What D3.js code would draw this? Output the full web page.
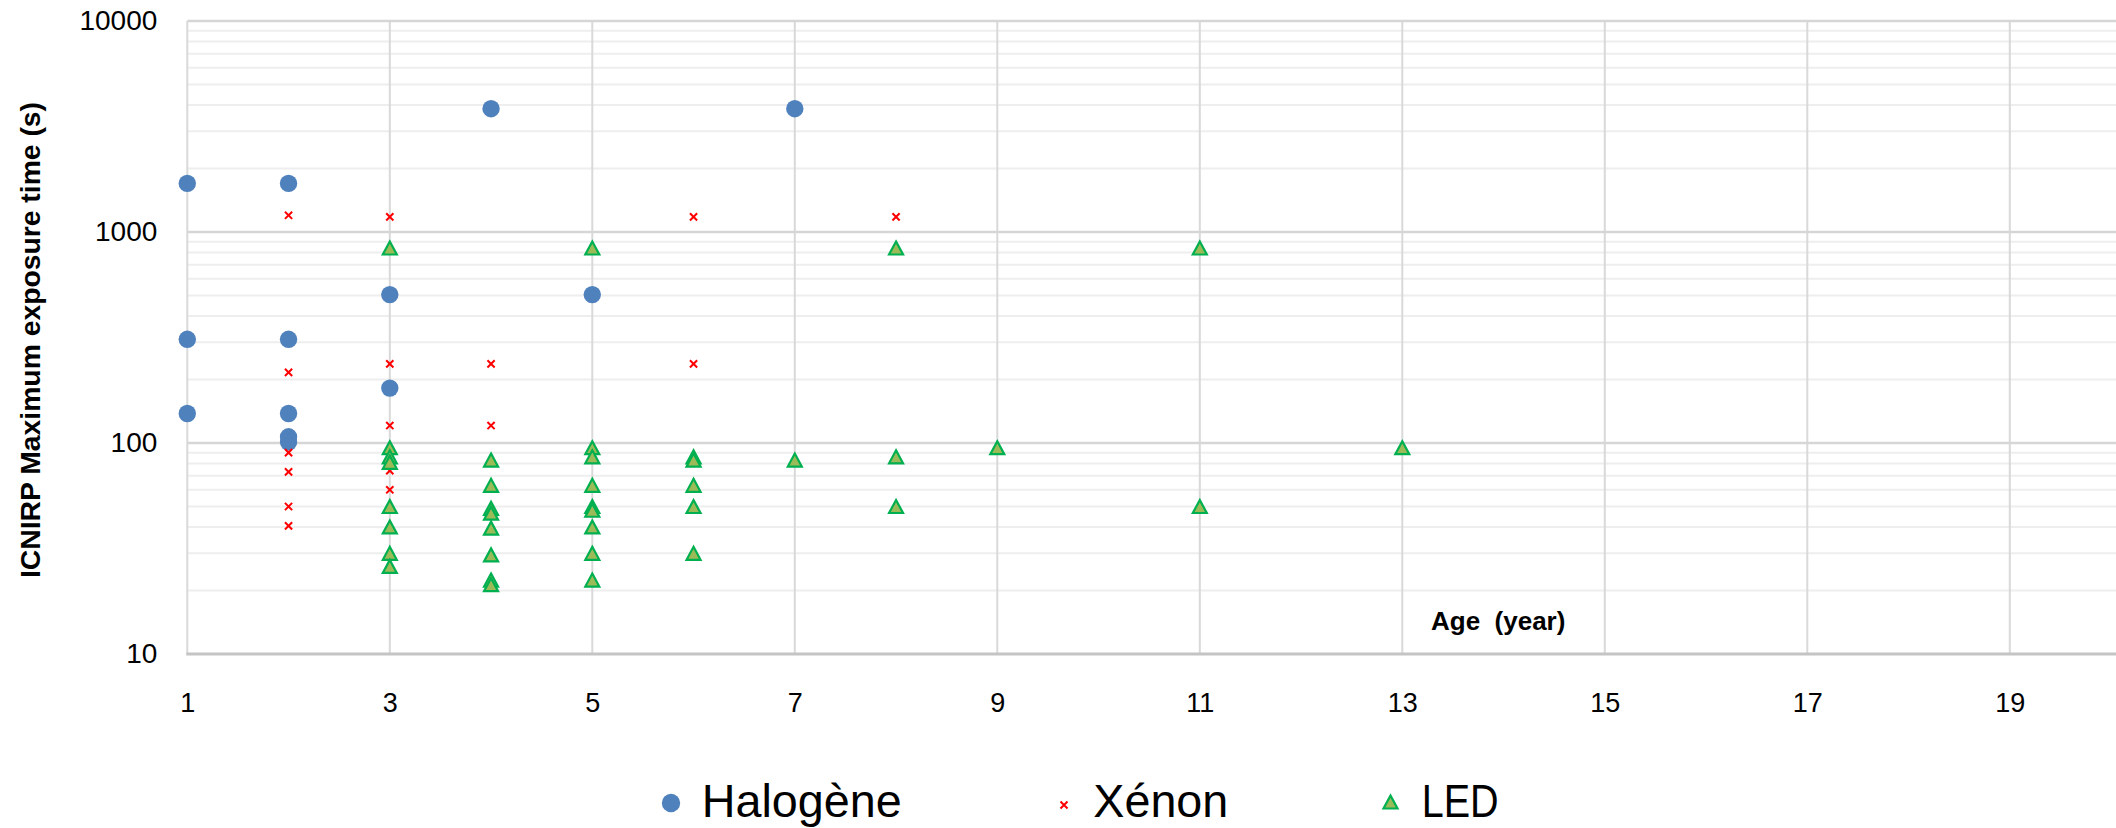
<!DOCTYPE html>
<html>
<head>
<meta charset="utf-8">
<script src="https://cdn.jsdelivr.net/npm/d3@7"></script>
<style>
  body { margin: 0; background: #fff; }
  svg { display: block; font-family: "Liberation Sans", Arial, sans-serif; }
</style>
</head>
<body>
<svg id="chart" width="2116" height="828"></svg>
<script>
// values
const halogeneAge  = [1, 2, 1, 2, 1, 2, 2, 2, 3, 3, 4, 5, 7];
const halogeneTime = [1700, 1700, 310, 310, 138, 138, 107, 101, 505, 182, 3840, 505, 3840];

const xenonAge  = [2, 3, 6, 8, 2, 3, 4, 6, 3, 4, 2, 2, 2, 2, 3, 3];
const xenonTime = [1200, 1180, 1180, 1180, 216, 237, 237, 237, 121, 121, 90, 73, 50, 40.5, 74, 60];

const ledAge  = [3, 3, 3, 3, 3, 3, 3, 3,
                 4, 4, 4, 4, 4, 4, 4, 4,
                 5, 5, 5, 5, 5, 5, 5, 5, 5,
                 6, 6, 6, 6, 6,
                 7, 8, 8, 8, 9, 11, 11, 13];
const ledTime = [840, 95, 86, 81, 50, 40, 30, 26,
                 83, 63, 49, 46.5, 39.5, 29.5, 22.4, 21.3,
                 840, 95, 86, 63, 50, 48, 40, 30, 22.4,
                 86, 83, 63, 50, 30,
                 83, 840, 86, 50, 95, 840, 50, 95];

const yTicks = [10, 100, 1000, 10000];
const xTicks = [1, 3, 5, 7, 9, 11, 13, 15, 17, 19];
const seriesNames = ["Halogène", "Xénon", "LED"];

const yTitle = "ICNIRP Maximum exposure time (s)";
const xTitle = "Age  (year)";

// layout
const W = 2116, H = 828;
const plotLeft = 187.3, plotTop = 21, plotBottom = 654;
const yearPx = 101.25;

const svg = d3.select("#chart");

const x = d3.scaleLinear().domain([1, 21]).range([plotLeft, plotLeft + 20 * yearPx]);
const y = d3.scaleLog().domain([10, 10000]).range([plotBottom, plotTop]);

// minor gridlines (2..9 in each decade)
const minor = [];
yTicks.slice(0, -1).forEach(d => { for (let k = 2; k < 10; k++) minor.push(d * k); });

const grid = svg.append("g");
grid.selectAll("line.minor").data(minor).enter().append("line")
  .attr("class", "minor")
  .attr("x1", plotLeft).attr("x2", W)
  .attr("y1", d => y(d)).attr("y2", d => y(d))
  .attr("stroke", "#eeeeee").attr("stroke-width", 2);

grid.selectAll("line.vert").data(xTicks).enter().append("line")
  .attr("class", "vert")
  .attr("x1", d => x(d)).attr("x2", d => x(d))
  .attr("y1", plotTop).attr("y2", plotBottom)
  .attr("stroke", "#d9d9d9").attr("stroke-width", 2);

grid.selectAll("line.major").data(yTicks.slice(1)).enter().append("line")
  .attr("class", "major")
  .attr("x1", plotLeft).attr("x2", W)
  .attr("y1", d => y(d)).attr("y2", d => y(d))
  .attr("stroke", "#d6d6d6").attr("stroke-width", 2.5);

// bottom axis line
grid.append("line")
  .attr("x1", plotLeft - 1).attr("x2", W)
  .attr("y1", plotBottom).attr("y2", plotBottom)
  .attr("stroke", "#c4c4c4").attr("stroke-width", 3);

// y axis labels
const yAxis = svg.append("g")
  .attr("transform", `translate(${plotLeft},0)`)
  .call(d3.axisLeft(y).tickValues(yTicks).tickFormat(d3.format("d")).tickSize(0).tickPadding(30));
yAxis.select(".domain").remove();
yAxis.selectAll("text").attr("font-size", 28).attr("fill", "#000")
  .attr("font-family", "Liberation Sans, Arial, sans-serif");

// x axis labels
const xAxis = svg.append("g")
  .attr("transform", `translate(0,${plotBottom})`)
  .call(d3.axisBottom(x).tickValues(xTicks).tickFormat(d3.format("d")).tickSize(0).tickPadding(39));
xAxis.select(".domain").remove();
xAxis.selectAll("text").attr("font-size", 27).attr("fill", "#000")
  .attr("font-family", "Liberation Sans, Arial, sans-serif");

// axis titles
svg.append("text")
  .attr("transform", "translate(40,340) rotate(-90)")
  .attr("text-anchor", "middle")
  .attr("font-weight", "bold").attr("font-size", 27)
  .attr("textLength", 476).attr("lengthAdjust", "spacingAndGlyphs")
  .text(yTitle);

svg.append("text")
  .attr("x", 1431).attr("y", 630)
  .attr("font-weight", "bold").attr("font-size", 26)
  .style("white-space", "pre")
  .text(xTitle);

// marker shapes
const triPath = "M0,-6.5L7,6.5L-7,6.5Z";
const crossPath = "M-3.6,-3.6L3.6,3.6M3.6,-3.6L-3.6,3.6";

const plot = svg.append("g");

plot.selectAll("circle.hal").data(d3.zip(halogeneAge, halogeneTime)).enter().append("circle")
  .attr("class", "hal")
  .attr("cx", d => x(d[0])).attr("cy", d => y(d[1]))
  .attr("r", 8.7).attr("fill", "#4f81bd");

plot.selectAll("path.xen").data(d3.zip(xenonAge, xenonTime)).enter().append("path")
  .attr("class", "xen")
  .attr("transform", d => `translate(${x(d[0])},${y(d[1])})`)
  .attr("d", crossPath)
  .attr("stroke", "#ff0000").attr("stroke-width", 2).attr("fill", "none");

plot.selectAll("path.led").data(d3.zip(ledAge, ledTime)).enter().append("path")
  .attr("class", "led")
  .attr("transform", d => `translate(${x(d[0])},${y(d[1])})`)
  .attr("d", triPath)
  .attr("fill", "#9bbb59").attr("stroke", "#00b050").attr("stroke-width", 2.2)
  .attr("stroke-linejoin", "miter");

// legend
const legendY = 803, legendBase = 817;
const legendMarkX = [671, 1064, 1390.5];
const legendTextX = [701.7, 1093.3, 1421.7];
const legendTextW = [200, 135, 77];

const legend = svg.append("g");
legend.append("circle").attr("cx", legendMarkX[0]).attr("cy", legendY).attr("r", 9.2).attr("fill", "#4f81bd");
legend.append("path").attr("transform", `translate(${legendMarkX[1]},${legendY + 2})`)
  .attr("d", "M-3.5,-3.5L3.5,3.5M3.5,-3.5L-3.5,3.5")
  .attr("stroke", "#ff0000").attr("stroke-width", 2).attr("fill", "none");
legend.append("path").attr("transform", `translate(${legendMarkX[2]},${legendY - 1})`)
  .attr("d", triPath)
  .attr("fill", "#9bbb59").attr("stroke", "#00b050").attr("stroke-width", 2.2);

legend.selectAll("text").data(seriesNames).enter().append("text")
  .attr("x", (d, i) => legendTextX[i]).attr("y", legendBase)
  .attr("font-size", 47).attr("fill", "#000")
  .attr("textLength", (d, i) => legendTextW[i]).attr("lengthAdjust", "spacingAndGlyphs")
  .text(d => d);
</script>
</body>
</html>
